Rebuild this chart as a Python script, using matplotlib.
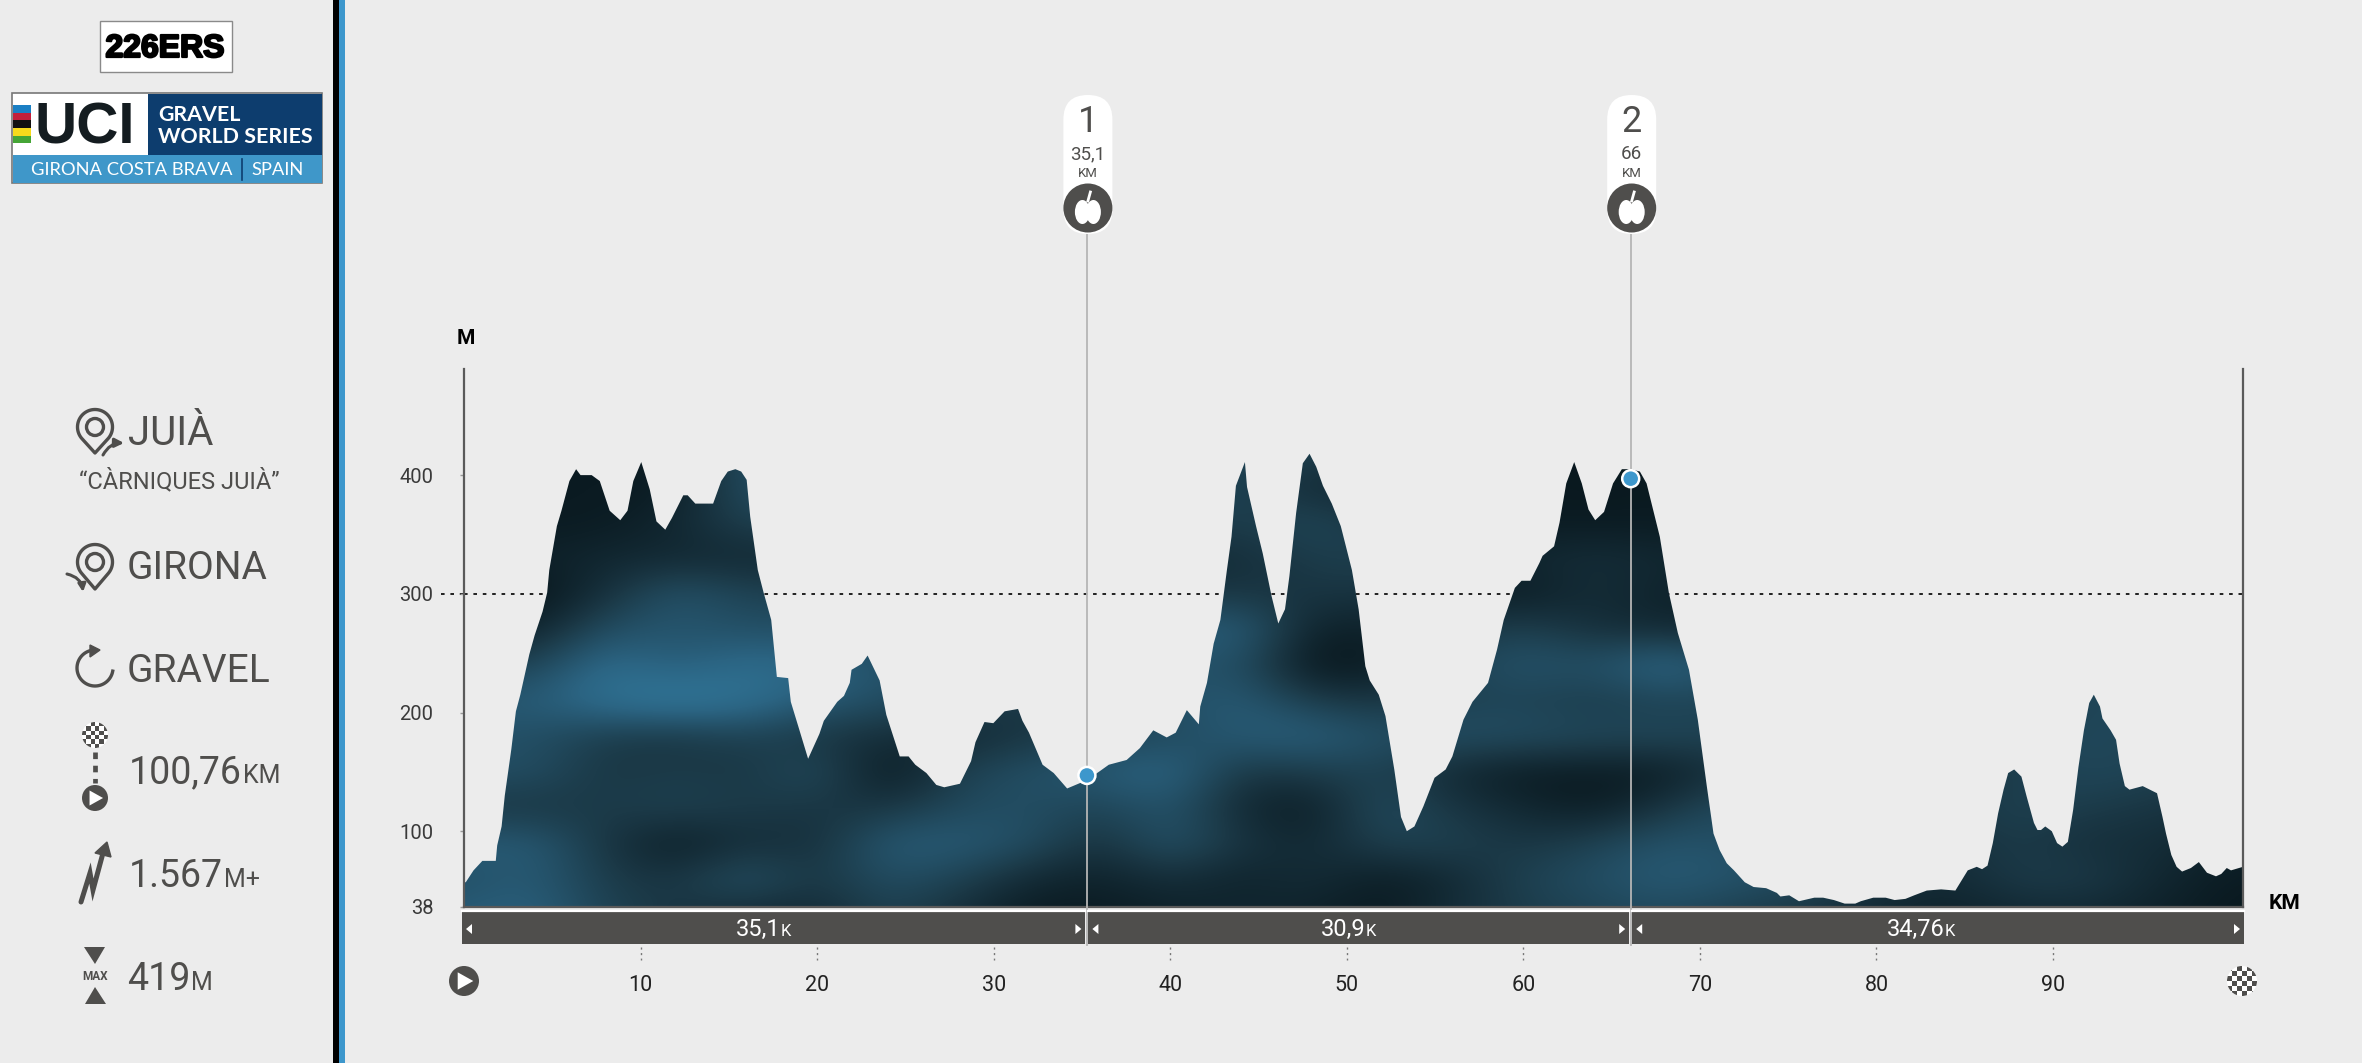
import numpy as np
import matplotlib
matplotlib.use("Agg")
import matplotlib.pyplot as plt
import matplotlib.patheffects as pe
from matplotlib.patches import Rectangle, Circle, Polygon, Ellipse, FancyBboxPatch, FancyArrowPatch
from matplotlib.colors import LinearSegmentedColormap

# ---------- data ----------
km = [0.00, 0.10, 0.54, 1.04, 1.80, 1.88, 2.13, 2.31, 2.68, 2.94, 3.19, 3.70, 4.00, 4.45, 4.71, 4.83, 5.26, 5.52,
      5.97, 6.35, 6.60, 7.23, 7.69, 8.25, 8.85, 9.26, 9.59, 10.04, 10.52, 10.90, 11.40, 11.78, 12.42, 12.67, 13.10,
      14.11, 14.57, 14.94, 15.37, 15.70, 16.01, 16.21, 16.64, 16.97, 17.40, 17.72, 18.36, 18.51, 18.94, 19.49, 20.13,
      20.38, 21.14, 21.52, 21.85, 21.95, 22.53, 22.86, 23.54, 23.92, 24.68, 25.18, 25.56, 26.19, 26.75, 27.20, 28.09,
      28.72, 28.97, 29.48, 29.98, 30.62, 31.38, 31.63, 32.00, 32.77, 33.40, 34.16, 35.28, 36.05, 36.52, 37.53, 38.28,
      39.04, 39.80, 40.31, 40.94, 41.62, 41.70, 42.08, 42.46, 42.84, 43.21, 43.47, 43.72, 44.23, 44.35, 44.86, 45.24,
      45.74, 46.12, 46.50, 46.75, 47.13, 47.51, 47.89, 48.27, 48.65, 49.15, 49.66, 50.29, 50.67, 51.05, 51.30, 51.81,
      52.19, 52.69, 53.07, 53.40, 53.83, 54.34, 54.97, 55.60, 55.98, 56.61, 57.12, 58.00, 58.51, 58.89, 59.52, 59.90,
      60.40, 60.91, 61.09, 61.74, 62.05, 62.43, 62.88, 63.31, 63.69, 64.07, 64.57, 65.08, 65.58, 66.09, 66.60, 66.98,
      67.73, 68.24, 68.75, 69.38, 69.88, 70.39, 70.77, 71.12, 71.52, 71.93, 72.54, 73.04, 73.75, 74.36, 74.56, 75.06,
      75.61, 76.48, 76.98, 77.59, 78.20, 78.80, 79.11, 79.82, 80.52, 81.03, 81.64, 82.14, 82.85, 83.66, 84.47, 85.17,
      85.68, 85.98, 86.29, 86.59, 86.89, 87.20, 87.46, 87.80, 88.21, 88.51, 88.92, 89.12, 89.32, 89.56, 89.93, 90.23,
      90.53, 90.84, 91.14, 91.44, 91.75, 92.05, 92.31, 92.66, 92.80, 93.26, 93.57, 93.77, 94.07, 94.33, 95.08, 95.89,
      96.20, 96.40, 96.70, 97.00, 97.31, 97.81, 98.26, 98.72, 99.23, 99.53, 99.84, 100.08, 100.76]
elev = [57, 57, 67, 75, 75, 88, 104, 130, 169, 201, 215, 249, 265, 285, 301, 320, 357, 370,
        395, 405, 400, 400, 395, 370, 362, 370, 395, 411, 388, 361, 354, 364, 383, 383, 376,
        376, 395, 403, 405, 403, 396, 365, 320, 301, 278, 230, 229, 209, 188, 161, 182,
        193, 209, 214, 225, 236, 241, 248, 227, 198, 163, 163, 156, 149, 139, 137, 140,
        159, 175, 192, 191, 201, 203, 193, 183, 156, 149, 136, 143, 151, 156, 160, 170,
        185, 179, 183, 202, 190, 205, 225, 258, 278, 320, 348, 391, 411, 390, 357, 334,
        298, 275, 287, 315, 368, 410, 418, 407, 391, 376, 357, 320, 287, 239, 227, 215,
        197, 152, 112, 100, 104, 121, 145, 152, 163, 194, 209, 225, 253, 278, 305, 311,
        311, 326, 332, 340, 360, 393, 411, 393, 371, 362, 369, 393, 405, 405, 403, 393,
        348, 301, 267, 236, 194, 138, 98, 84, 73, 67, 57, 53, 52, 48, 45, 46,
        41, 44, 44, 42, 39, 39, 41, 44, 44, 42, 43, 46, 50, 51, 50, 67,
        70, 68, 71, 90, 115, 135, 149, 152, 146, 129, 107, 101, 101, 104, 100, 90,
        87, 91, 118, 154, 185, 208, 215, 205, 195, 185, 177, 157, 138, 135, 138, 132,
        112, 98, 80, 70, 66, 69, 74, 65, 62, 64, 69, 67, 70]

# brightness of the photographic fill: one row every 30 m (420 down to 30), one column every 4 km
shade_rows = [
    [.10,.10,.10,.10,.50,.50,.40,.40,.40,.40,.40,.40,.40,.30,.20,.08,.08,.10,.10,.10,.10,.10,.10,.10,.10,.10],
    [.10,.10,.10,.10,.50,.50,.40,.40,.40,.40,.40,.40,.20,.20,.10,.10,.08,.10,.10,.10,.10,.10,.10,.10,.10,.10],
    [.10,.10,.10,.20,.40,.40,.40,.40,.40,.40,.40,.35,.45,.30,.10,.10,.10,.10,.10,.10,.10,.10,.10,.10,.10,.10],
    [.15,.15,.20,.20,.20,.20,.20,.20,.20,.20,.20,.25,.35,.40,.20,.20,.25,.20,.20,.20,.20,.20,.20,.20,.20,.20],
    [.05,.05,.25,.55,.40,.40,.30,.30,.30,.30,.30,.30,.30,.30,.15,.10,.25,.15,.15,.15,.15,.15,.15,.15,.15,.15],
    [.15,.15,.50,.55,.50,.50,.40,.40,.40,.40,.60,.65,.15,.15,.30,.40,.25,.20,.20,.20,.20,.20,.20,.20,.20,.20],
    [.40,.40,.75,.60,.75,.70,.50,.50,.40,.40,.50,.50,.05,.10,.40,.55,.50,.75,.50,.40,.40,.40,.40,.40,.40,.40],
    [.60,.60,.80,.90,.80,.60,.50,.40,.30,.40,.50,.60,.35,.30,.40,.40,.35,.40,.40,.40,.40,.40,.40,.40,.50,.40],
    [.50,.50,.35,.30,.40,.30,.25,.20,.30,.40,.45,.60,.65,.50,.50,.50,.45,.45,.40,.40,.40,.40,.40,.45,.40,.40],
    [.50,.50,.30,.35,.30,.50,.05,.40,.50,.60,.70,.30,.35,.40,.20,.10,.10,.10,.30,.30,.30,.30,.35,.45,.40,.35],
    [.30,.30,.35,.40,.35,.30,.30,.45,.50,.40,.55,.20,.10,.50,.30,.20,.10,.30,.50,.40,.30,.30,.40,.35,.30,.25],
    [.60,.60,.30,.10,.25,.25,.60,.60,.50,.25,.55,.30,.20,.40,.40,.30,.40,.55,.50,.40,.30,.25,.35,.25,.25,.15],
    [.50,.60,.35,.30,.55,.30,.50,.40,.20,.15,.25,.15,.25,.10,.20,.40,.50,.60,.55,.45,.30,.20,.35,.35,.20,.10],
    [.60,.65,.40,.30,.20,.20,.40,.25,.10,.10,.15,.20,.15,.10,.25,.35,.40,.45,.35,.30,.20,.15,.20,.20,.15,.08],
]

aid_km = [35.28, 66.08]
aid_elev = [147, 397]
aid_no = ["1", "2"]
aid_label = ["35,1", "66"]
seg_edges_km = [0, 35.28, 66.08, 100.76]
seg_labels = ["35,1", "30,9", "34,76"]
x_ticks = [10, 20, 30, 40, 50, 60, 70, 80, 90]
y_ticks = [100, 200, 300, 400]

# ---------- style ----------
BG = "#ececec"
DK = "#4f4e4c"
BLUE = "#3d97cc"
plt.rcParams["font.family"] = ["Roboto", "DejaVu Sans"]

fig = plt.figure(figsize=(23.62, 10.63), dpi=100, facecolor=BG)
W, H = 2362, 1063
L, R, T, B = 464, 2243, 369, 906.7
ax = fig.add_axes([L / W, 1 - B / H, (R - L) / W, (B - T) / H], facecolor="none")
YB = 36.4

# profile filled with the shading grid, clipped by the profile outline
cmap = LinearSegmentedColormap.from_list("fill", ["#040e12", "#1b3947", "#2b6482", "#3586ad"])
im = ax.imshow(np.array(shade_rows), extent=(-2, 102, 15, 435), origin="upper", aspect="auto",
               cmap=cmap, vmin=0, vmax=1, interpolation="bicubic", zorder=2)
poly = Polygon(list(zip(km, elev)) + [(100.76, YB), (0, YB)], closed=True, transform=ax.transData,
               fc="none", ec="none")
ax.add_patch(poly)
im.set_clip_path(poly)
ax.set_xlim(0, 100.76)
ax.set_ylim(YB, 489.4)

ax.axhline(300, color="#111111", lw=1.3, ls=(0, (2, 3.2)), zorder=1)
ax.plot([-1.3, 0], [300, 300], color="#111111", lw=1.3, ls=(0, (2, 3.2)), clip_on=False, zorder=1)

ax.spines["top"].set_visible(False)
for s in ["left", "right", "bottom"]:
    ax.spines[s].set_color("#5a5a5a")
    ax.spines[s].set_linewidth(1.6)

ax.set_yticks([YB] + y_ticks)
ax.set_yticklabels(["38"] + [str(v) for v in y_ticks], fontsize=14.5, color="#3a3a3a")
ax.tick_params(axis="y", length=3, width=1, color="#999999", pad=19)
ax.set_xticks(x_ticks)
ax.set_xticklabels([str(v) for v in x_ticks], fontsize=15.5, color="#222222")
ax.tick_params(axis="x", length=0, pad=49)

ov = fig.add_axes([0, 0, 1, 1], facecolor="none")
ov.set_xlim(0, W)
ov.set_ylim(H, 0)
ov.axis("off")
ov.set_zorder(5)
rend = fig.canvas.get_renderer()


def kmx(v):
    return L + (R - L) * v / 100.76


def mty(v):
    return B - (B - T) * (v - YB) / (489.4 - YB)


def txt(x, y, s, size, color=DK, ha="left", va="baseline", **kw):
    return ov.text(x, y, s, fontsize=size, color=color, ha=ha, va=va, **kw)


def value_unit(x, y, big, unit, size=27, usize=18):
    t = txt(x, y, big, size)
    x1 = t.get_window_extent(rend).x1
    txt(x1 + 1, y, unit, usize)


# sidebar bars
ov.add_patch(Rectangle((333, 0), 6, H, fc="#000000", ec="none"))
ov.add_patch(Rectangle((339, 0), 6, H, fc=BLUE, ec="none"))

# 226ERS logo
ov.add_patch(Rectangle((99.5, 20.5), 132, 51, fc="white", ec="#8a8a8a", lw=1))
txt(165, 57, "226ERS", 23, "#000000", ha="center", fontweight="bold", family=["Liberation Sans"],
    path_effects=[pe.withStroke(linewidth=1.6, foreground="#000000")])
# UCI logo
ov.add_patch(Rectangle((12, 93), 310, 90, fc="white", ec="#777777", lw=1.2, zorder=1))
ov.add_patch(Rectangle((148, 94), 173.5, 61, fc="#0d3d6e", ec="none", zorder=2))
ov.add_patch(Rectangle((13, 155), 308.5, 27.5, fc="#3f97c9", ec="none", zorder=2))
for i, c in enumerate(["#1b7fc4", "#c31f3a", "#111111", "#f7da1c", "#45a536"]):
    ov.add_patch(Rectangle((13, 105 + i * 7.7), 18, 7.7, fc=c, ec="none", zorder=2))
LOGO = ["Lato", "Liberation Sans", "DejaVu Sans"]
txt(35, 144, "UCI", 42, "#141c20", family=["Liberation Sans"], fontweight="bold", zorder=3)
txt(158, 121, "GRAVEL", 15.4, "white", family=LOGO, fontweight="bold", zorder=3)
txt(158, 143, "WORLD SERIES", 15.4, "white", family=LOGO, fontweight="bold", zorder=3)
txt(31, 175, "GIRONA COSTA BRAVA", 13.2, "white", family=LOGO, zorder=3)
ov.plot([242, 242], [159, 180], color="#0d3d6e", lw=1.2, zorder=3)
txt(251, 175, "SPAIN", 13.2, "white", family=LOGO, zorder=3)


def pin(cx, cy, tip):
    r = 17.5
    a = np.radians(np.linspace(-40, 220, 60))
    xs = np.r_[cx + r * np.cos(a), cx]
    ys = np.r_[cy - r * np.sin(a), tip]
    ov.add_patch(Polygon(np.c_[xs, ys], closed=True, fc="none", ec=DK, lw=2.4, joinstyle="round"))
    ov.add_patch(Circle((cx, cy), 8.5, fc="none", ec=DK, lw=2.4))


def checker(cx, cy, r, n):
    c = Circle((cx, cy), r, fc="white", ec="none")
    ov.add_patch(c)
    s = 2 * r / n
    for i in range(n):
        for j in range(n):
            if (i + j) % 2 == 0:
                p = Rectangle((cx - r + i * s, cy - r + j * s), s, s, fc=DK, ec="none")
                ov.add_patch(p)
                p.set_clip_path(c)


def play(cx, cy, r):
    ov.add_patch(Circle((cx, cy), r, fc=DK, ec="none"))
    ov.add_patch(Polygon([(cx - 0.42 * r, cy - 0.58 * r), (cx - 0.42 * r, cy + 0.58 * r), (cx + 0.62 * r, cy)],
                         closed=True, fc="white", ec="none"))


# sidebar rows
pin(95, 427, 453)
ov.add_patch(FancyArrowPatch((103, 455), (124, 443), connectionstyle="arc3,rad=-0.3", arrowstyle="-|>",
                             mutation_scale=13, color=DK, lw=2.2, shrinkA=0, shrinkB=0))
txt(128, 445, "JUIÀ", 29)
txt(79, 488, "“CÀRNIQUES JUIÀ”", 17)
pin(95, 562, 589)
ov.add_patch(FancyArrowPatch((67, 574), (83, 592), connectionstyle="arc3,rad=-0.35", arrowstyle="-|>",
                             mutation_scale=11, color=DK, lw=2.2, shrinkA=0, shrinkB=0))
txt(127, 579, "GIRONA", 28)
ang = np.radians(np.linspace(95, 350, 60))
ov.plot(95 + 18 * np.cos(ang), 668 - 18 * np.sin(ang), color=DK, lw=2.4)
ov.add_patch(Polygon([(100, 650), (90, 645), (90, 657)], closed=True, fc=DK, ec=DK, lw=1))
txt(127, 682, "GRAVEL", 28)

checker(95, 735, 13, 6)
ov.plot([95, 95], [752, 783], color=DK, lw=3.4, ls=(0, (1.4, 1.4)))
play(95, 798, 13)
value_unit(129, 783, "100,76", "KM")

ov.plot([81, 90, 93, 103], [902, 873, 890, 853], color=DK, lw=3.6, solid_capstyle="round", solid_joinstyle="miter")
ov.add_patch(Polygon([(107, 842), (95, 853), (111, 857)], closed=True, fc=DK, ec=DK, lw=1))
value_unit(129, 887, "1.567", "M+")

ov.add_patch(Polygon([(84, 947), (105, 947), (95, 964)], closed=True, fc=DK, ec="none"))
ov.add_patch(Polygon([(85, 1004), (106, 1004), (95, 987)], closed=True, fc=DK, ec="none"))
txt(95, 980, "MAX", 8.5, ha="center", fontweight="bold")
value_unit(127, 990, "419", "M")

# axis letters
txt(466, 344, "M", 15, "#000000", ha="center", fontweight="bold")
txt(2284, 909, "KM", 15, "#000000", ha="center", fontweight="bold")

# segment bars
edges = [kmx(v) for v in seg_edges_km]
for i, lab in enumerate(seg_labels):
    x0 = edges[i] + (1.5 if i else -2)
    x1 = edges[i + 1] - (1.5 if i < 2 else -1)
    ov.add_patch(Rectangle((x0, 912), x1 - x0, 32, fc=DK, ec="none"))
    ov.plot([x0, x1], [910.5, 910.5], color="white", lw=1.6)
    ov.add_patch(Polygon([(x0 + 4, 929), (x0 + 10, 924), (x0 + 10, 934)], closed=True, fc="white", ec="none"))
    ov.add_patch(Polygon([(x1 - 4, 929), (x1 - 10, 924), (x1 - 10, 934)], closed=True, fc="white", ec="none"))
    mid = (x0 + x1) / 2
    txt(mid + 7, 936, lab, 17, "white", ha="right")
    txt(mid + 7, 936, "K", 12, "white", ha="left")

# tick dashes under the bars
for v in x_ticks:
    ov.plot([kmx(v)] * 2, [947, 960], color="#777777", lw=1, ls=(0, (1.5, 2.5)))

play(L, 981, 15)
checker(R - 1, 981, 15, 6)

# aid stations
for k, e, no, lab in zip(aid_km, aid_elev, aid_no, aid_label):
    x = kmx(k)
    xp = x + 1
    ov.plot([x, x], [230, 945], color="#b5b5b5", lw=1.3, zorder=1.5)
    ov.add_patch(FancyBboxPatch((xp, 95 + 24.5), 0, 90, boxstyle="round,pad=24.5,rounding_size=24.5",
                                fc="white", ec="none", zorder=2))
    ov.add_patch(Circle((xp, 208), 24.5, fc=DK, ec="none", zorder=3))
    ov.add_patch(Ellipse((xp - 5.5, 212), 15, 24, fc="white", ec="none", zorder=4))
    ov.add_patch(Ellipse((xp + 5.5, 212), 15, 24, fc="white", ec="none", zorder=4))
    ov.plot([xp, xp + 2.5], [201, 192], color="white", lw=2, zorder=4)
    txt(xp, 132, no, 26, ha="center", zorder=4)
    txt(xp, 159, lab, 13.5, ha="center", zorder=4)
    txt(xp, 177, "KM", 9.5, ha="center", zorder=4)
    ov.add_patch(Circle((x, mty(e)), 8.5, fc=BLUE, ec="white", lw=1.8, zorder=6))

fig.savefig("out.png", dpi=100, facecolor=BG)
